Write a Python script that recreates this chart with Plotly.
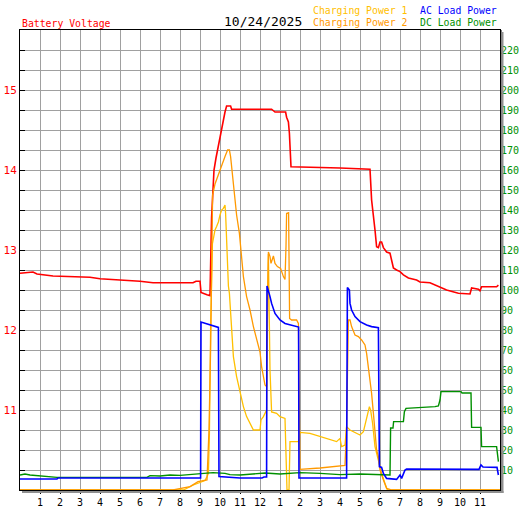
import plotly.graph_objects as go

# ---- data (hours since midnight, value) ----
hour_labels = ["1", "2", "3", "4", "5", "6", "7", "8", "9", "10", "11", "12",
               "1", "2", "3", "4", "5", "6", "7", "8", "9", "10", "11"]
voltage_ticks = [11, 12, 13, 14, 15]
power_ticks = list(range(10, 230, 10))

battery_voltage = [
    (0, 12.71), (0.65, 12.725), (0.85, 12.70), (1.65, 12.675), (3.5, 12.66), (4.0, 12.64),
    (6.0, 12.61), (6.65, 12.59), (8.65, 12.59), (8.8, 12.61), (9.0, 12.61), (9.05, 12.47),
    (9.35, 12.44), (9.5, 12.43), (9.58, 13.41), (9.63, 13.69), (9.7, 14.0), (9.8, 14.15),
    (9.97, 14.375), (10.08, 14.54), (10.17, 14.625), (10.25, 14.725), (10.33, 14.8),
    (10.53, 14.8), (10.58, 14.76), (12.58, 14.76), (12.75, 14.725), (13.28, 14.725),
    (13.33, 14.66), (13.42, 14.6), (13.47, 14.46), (13.5, 14.25), (13.55, 14.04),
    (16.0, 14.025), (17.5, 14.01), (17.58, 13.625), (17.67, 13.46), (17.75, 13.25),
    (17.83, 13.04), (17.92, 13.03), (18.0, 13.1), (18.08, 13.1), (18.17, 13.03),
    (18.33, 12.975), (18.5, 12.96), (18.67, 12.775), (18.83, 12.75), (19.0, 12.73),
    (19.17, 12.69), (19.42, 12.65), (19.83, 12.625), (20.0, 12.6), (20.5, 12.59),
    (21.0, 12.54), (21.33, 12.5), (21.92, 12.46), (22.5, 12.45), (22.58, 12.525),
    (22.92, 12.51), (23.0, 12.49), (23.08, 12.54), (23.83, 12.54), (23.92, 12.56),
]

charging_power_1 = [
    (0, 0), (8.17, 0), (8.67, 2.5), (9.0, 3.7), (9.25, 4.7), (9.35, 6.7), (9.42, 8.3),
    (9.47, 28), (9.53, 80), (9.62, 123), (9.67, 126.7), (9.75, 130), (9.83, 131.7),
    (9.92, 134), (10.0, 137.5), (10.08, 140), (10.17, 140.8), (10.25, 142.5),
    (10.28, 138.3), (10.33, 123.3), (10.38, 110), (10.42, 102), (10.47, 98.3),
    (10.58, 80), (10.67, 66.7), (10.83, 56.7), (11.0, 48.3), (11.17, 41.7),
    (11.33, 36.7), (11.5, 33.3), (11.67, 30), (12.0, 30), (12.05, 35), (12.17, 36.7),
    (12.25, 38), (12.33, 40), (12.38, 100), (12.42, 118), (12.5, 60), (12.58, 39),
    (12.83, 38.3), (13.0, 36.7), (13.25, 35.8), (13.3, 21.7), (13.35, 0), (13.45, 0),
    (13.5, 24.2), (13.92, 24.2), (14.0, 28.8), (14.5, 28.3), (15.0, 26.7),
    (15.83, 24.2), (16.0, 25.8), (16.08, 21.7), (16.25, 22.5), (16.33, 31.7),
    (16.5, 30), (17.0, 27.5), (17.17, 29.2), (17.33, 36.7), (17.47, 41.7),
    (17.53, 40), (17.63, 33.3), (17.75, 21.7), (17.87, 16.7), (17.97, 11.7),
    (18.08, 8.3), (18.25, 3.3), (18.37, 0), (24, 0),
]

charging_power_2 = [
    (0, 0), (7.65, 0), (8.5, 1.7), (8.9, 4.2), (9.35, 5), (9.45, 30), (9.53, 70),
    (9.58, 120), (9.63, 147.5), (9.75, 153), (9.92, 158), (10.08, 162.5),
    (10.25, 166.7), (10.38, 170), (10.47, 170), (10.53, 166.7), (10.63, 156.7),
    (10.72, 145.8), (10.83, 137.5), (10.97, 128.3), (11.08, 115), (11.17, 106.7),
    (11.33, 96.7), (11.5, 90), (11.67, 81.7), (11.83, 75), (12.0, 69), (12.08, 61.7),
    (12.17, 56.7), (12.25, 52.5), (12.33, 51.7), (12.42, 119), (12.5, 116.7),
    (12.55, 113.3), (12.67, 117), (12.75, 113.3), (12.87, 111.7), (13.03, 110.8),
    (13.17, 106.7), (13.25, 105.3), (13.3, 121.7), (13.33, 138.3), (13.43, 138.7),
    (13.47, 100), (13.48, 85.8), (13.58, 85), (13.83, 85), (13.92, 83.3),
    (13.95, 60), (14.0, 10.3), (15.0, 11), (16.25, 12.3), (16.33, 31.7),
    (16.38, 60), (16.42, 85), (16.5, 85), (16.58, 81.7), (16.75, 77.5),
    (16.92, 76.7), (17.08, 75), (17.25, 72.5), (17.33, 68.3), (17.42, 61.7),
    (17.5, 55), (17.58, 48.3), (17.67, 38.3), (17.75, 28.3), (17.83, 20),
    (17.92, 16.7), (18.0, 10), (18.17, 5), (18.33, 0.8), (18.6, 0), (24, 0),
]

ac_load_power = [
    (0, 5.5), (1.85, 5.5), (1.9, 6), (4, 6), (5, 5.8), (6.5, 6), (8.95, 6), (9.03, 6),
    (9.05, 84), (9.25, 83.3), (9.5, 82.5), (9.75, 81.7), (9.92, 81.3), (9.95, 6.7),
    (10.5, 6.3), (11, 6), (12.1, 6), (12.2, 6.5), (12.33, 6.5), (12.35, 102),
    (12.5, 96.7), (12.58, 93.3), (12.75, 88.3), (13, 85), (13.25, 83.3), (13.5, 82.5),
    (13.83, 81.7), (13.93, 81.5), (13.95, 6), (16.33, 6), (16.37, 101.3),
    (16.47, 100), (16.5, 93.3), (16.58, 90), (16.75, 86.7), (17, 84.2), (17.33, 82.5),
    (17.58, 81.7), (17.92, 81.2), (17.97, 11.7), (18.08, 11.3), (18.17, 8.3),
    (18.33, 5.8), (18.83, 5.3), (19, 7.5), (19.08, 5.8), (19.25, 10), (19.33, 10.5),
    (22.95, 10.3), (23.05, 12.5), (23.15, 11.5), (23.85, 11.3), (23.92, 7.5),
]

dc_load_power = [
    (0, 7.5), (0.25, 8), (0.5, 7.5), (0.85, 7.2), (1.85, 6.3), (6.35, 6.3), (6.5, 7.2),
    (7, 7), (7.5, 7.5), (8, 7.3), (8.5, 7.7), (8.9, 8), (9.25, 8.3), (9.65, 8.7),
    (10.25, 8.3), (10.5, 7.7), (11, 7.5), (11.75, 8.3), (12.25, 8.5), (13, 8),
    (13.5, 8.3), (14, 8.7), (15, 8.3), (16, 7.7), (17, 8), (17.9, 7.5), (18.5, 7.5),
    (18.53, 31), (18.65, 31), (18.68, 34.2), (19.17, 34.2), (19.22, 39.2), (19.3, 40.8),
    (20.75, 41.7), (20.92, 42), (21, 45), (21.05, 49.2), (22.05, 49.2), (22.1, 48.5),
    (22.55, 48.5), (22.58, 31.3), (23.05, 31.3), (23.08, 21.7), (23.83, 21.7),
    (23.92, 14.2),
]

RED = "#FF0000"
BLUE = "#0000FF"
GREEN = "#009000"
GOLD = "#FFC000"
ORANGE = "#FF9900"
GRID = "#A0A0A0"
FONT = "DejaVu Sans Mono"


def xy(pairs):
    return [p[0] for p in pairs], [p[1] for p in pairs]


fig = go.Figure()
for data, color, width, axis in [
    (charging_power_1, GOLD, 1.3, "y2"),
    (charging_power_2, ORANGE, 1.3, "y2"),
    (dc_load_power, GREEN, 1.4, "y2"),
    (ac_load_power, BLUE, 1.6, "y2"),
    (battery_voltage, RED, 1.6, "y"),
]:
    x, y = xy(data)
    fig.add_trace(go.Scatter(x=x, y=y, mode="lines", yaxis=axis,
                             line=dict(color=color, width=width), showlegend=False,
                             hoverinfo="skip"))

# left-axis ticks every 0.25 V, labels only on whole volts
v_tickvals = [10 + 0.25 * i for i in range(1, 23)]
v_ticktext = [str(int(v)) if v in voltage_ticks else "" for v in v_tickvals]

fig.update_layout(
    width=527, height=510,
    margin=dict(l=20, r=27, t=30, b=20, autoexpand=False),
    paper_bgcolor="white", plot_bgcolor="white",
    font=dict(family=FONT, size=10, color="black"),
    xaxis=dict(range=[0, 24], tickvals=list(range(1, 24)), ticktext=hour_labels,
               showgrid=True, gridcolor=GRID, gridwidth=1, zeroline=False,
               ticks="outside", ticklen=3, tickcolor="black", automargin=False,
               tickfont=dict(family=FONT, size=10, color="black"),
               showline=True, linecolor="black", linewidth=1, mirror=True),
    yaxis=dict(range=[10, 15.75], tickvals=v_tickvals, ticktext=v_ticktext,
               showgrid=True, gridcolor=GRID, gridwidth=1, zeroline=False,
               ticks="inside", ticklen=5, tickcolor="black", automargin=False,
               tickfont=dict(family=FONT, size=11, color=RED),
               showline=True, linecolor="black", linewidth=1, mirror=True),
    yaxis2=dict(range=[0, 230], tickvals=power_ticks, overlaying="y", side="right",
                showgrid=False, zeroline=False, ticks="", automargin=False,
                tickfont=dict(family=FONT, size=10, color=GREEN)),
    shapes=[
        dict(type="rect", xref="paper", yref="paper", x0=480 / 480, x1=481.5 / 480,
             y0=-1 / 460, y1=460 / 460, fillcolor="black", line=dict(width=0)),
        dict(type="rect", xref="paper", yref="paper", x0=481.5 / 480, x1=483.5 / 480,
             y0=-3 / 460, y1=458 / 460, fillcolor="#909090", line=dict(width=0)),
        dict(type="rect", xref="paper", yref="paper", x0=2 / 480, x1=483.5 / 480,
             y0=-3 / 460, y1=-1 / 460, fillcolor="#909090", line=dict(width=0)),
    ],
    annotations=[
        dict(text="Battery Voltage", x=0, y=(490 - 23.5) / 460, xref="paper", yref="paper",
             xanchor="left", yanchor="middle", showarrow=False,
             font=dict(family=FONT, size=9.8, color=RED)),
        dict(text="10/24/2025", x=(222 - 20) / 480, y=(490 - 21) / 460, xref="paper",
             yref="paper", xanchor="left", yanchor="middle", showarrow=False,
             font=dict(family=FONT, size=13, color="black")),
        dict(text="Charging Power 1", x=(311 - 20) / 480, y=(490 - 11) / 460, xref="paper",
             yref="paper", xanchor="left", yanchor="middle", showarrow=False,
             font=dict(family=FONT, size=9.8, color=GOLD)),
        dict(text="Charging Power 2", x=(311 - 20) / 480, y=(490 - 23) / 460, xref="paper",
             yref="paper", xanchor="left", yanchor="middle", showarrow=False,
             font=dict(family=FONT, size=9.8, color=ORANGE)),
        dict(text="AC Load Power", x=(418 - 20) / 480, y=(490 - 11) / 460, xref="paper",
             yref="paper", xanchor="left", yanchor="middle", showarrow=False,
             font=dict(family=FONT, size=9.8, color=BLUE)),
        dict(text="DC Load Power", x=(418 - 20) / 480, y=(490 - 23) / 460, xref="paper",
             yref="paper", xanchor="left", yanchor="middle", showarrow=False,
             font=dict(family=FONT, size=9.8, color=GREEN)),
    ],
)

fig.write_html("out.html", config={"displayModeBar": False},
               post_script="document.body.style.margin='0px';document.body.style.overflow='hidden';")
